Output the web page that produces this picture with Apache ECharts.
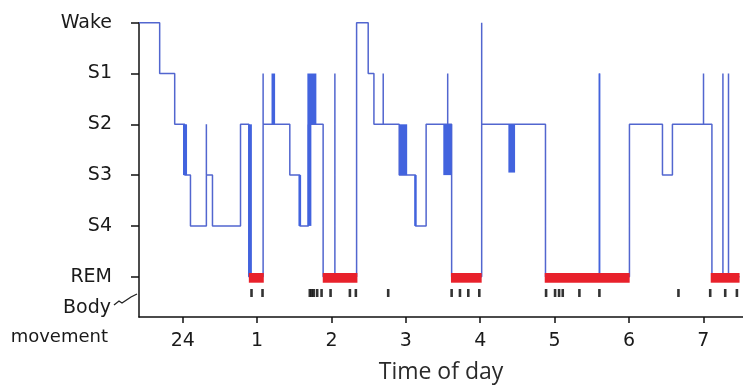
<!DOCTYPE html>
<html><head><meta charset="utf-8">
<script src="https://cdn.jsdelivr.net/npm/echarts@6/dist/echarts.min.js"></script>
<style>html,body{margin:0;padding:0;background:#fff}#c{width:743px;height:385px}</style>
</head><body><div id="c"></div>
<script>
// Stage axis (value 5 = Wake ... 0 = REM)
const stageLabels = ['REM', 'S4', 'S3', 'S2', 'S1', 'Wake'];
const stageValues = [0, 1, 2, 3, 4, 5];
// Time axis: hours after midnight
const hourTicks = [0, 1, 2, 3, 4, 5, 6, 7];
const hourLabels = ['24', '1', '2', '3', '4', '5', '6', '7'];

// Hypnogram: segment start time (h) and stage held until the next start
const segStart = [-0.588, -0.310, -0.108, 0.027, 0.104, 0.318, 0.318, 0.400, 0.777, 0.890,
  1.081, 1.081, 1.440, 1.575, 1.690, 1.888, 2.046, 2.046, 2.338, 2.494,
  2.571, 2.696, 2.696, 2.911, 3.130, 3.273, 3.563, 3.563, 3.616, 4.020,
  4.020, 4.878, 5.603, 5.603, 6.007, 6.451, 6.585, 7.003, 7.003, 7.116,
  7.264, 7.264, 7.339, 7.339];
const segStage = [5, 4, 3, 2, 1, 3, 2, 1, 3, 0,
  4, 3, 2, 1, 3, 0, 4, 0, 5, 4,
  3, 4, 3, 2, 1, 3, 4, 3, 0, 5,
  3, 0, 4, 0, 3, 2, 3, 4, 3, 0,
  4, 0, 4, 0];
const recordEnd = 7.488;

// Rapid stage alternations drawn as filled blocks: start, end, low stage, high stage
const blockStart = [0.004, 0.879, 1.194, 1.556, 1.676, 1.676, 2.911, 3.113, 3.504, 4.379, 5.595];
const blockEnd   = [0.058, 0.930, 1.242, 1.592, 1.730, 1.797, 3.018, 3.145, 3.616, 4.469, 5.615];
const blockLow   = [2, 0, 3, 1, 1, 3, 2, 1, 2, 2.05, 0];
const blockHigh  = [3, 3, 4, 2, 3, 4, 3, 2, 3, 3, 4];

// REM periods
const remStart = [0.889, 1.883, 3.607, 4.868, 7.100];
const remEnd   = [1.090, 2.349, 4.020, 6.010, 7.488];

// Body movements (times, h)
const bodyMovements = [0.925, 1.073, 1.709, 1.736, 1.763, 1.808, 1.867, 1.988, 2.248, 2.328,
  2.763, 3.616, 3.728, 3.840, 3.988, 4.886, 5.007, 5.061, 5.110, 5.334,
  5.603, 6.666, 7.093, 7.295, 7.452];
const bodyRow = -0.321;

const linePts = [];
for (let i = 0; i < segStart.length; i++) {
  const t1 = i + 1 < segStart.length ? segStart[i + 1] : recordEnd;
  linePts.push([segStart[i], segStage[i]]);
  linePts.push([t1, segStage[i]]);
}
const blocks = blockStart.map((s, i) => [s, blockEnd[i], blockLow[i], blockHigh[i]]);
const rems = remStart.map((s, i) => [s, remEnd[i]]);

const FONT = 'DejaVu Sans';
const chart = echarts.init(document.getElementById('c'), null, {renderer: 'canvas'});
chart.setOption({
  animation: false,
  backgroundColor: '#fff',
  grid: {left: 139, right: 0, top: 22.7, bottom: 68, containLabel: false, outerBoundsMode: 'none'},
  xAxis: {
    type: 'value', min: -0.588, max: 7.534,
    splitLine: {show: false},
    axisLine: {onZero: false, lineStyle: {color: '#111', width: 1.5}},
    axisTick: {customValues: hourTicks, length: 6, lineStyle: {color: '#111', width: 1.5}},
    axisLabel: {customValues: hourTicks, formatter: v => hourLabels[hourTicks.indexOf(Math.round(v))],
      fontFamily: FONT, fontSize: 19, color: '#1a1a1a', margin: 15},
    name: 'Time of day', nameLocation: 'middle', nameGap: 44,
    nameTextStyle: {fontFamily: 'Open Sans', fontSize: 23, color: '#2a2a2a'}
  },
  yAxis: {
    type: 'value', min: -0.793, max: 5,
    splitLine: {show: false},
    axisLine: {show: true, onZero: false, lineStyle: {color: '#111', width: 1.5}},
    axisTick: {customValues: stageValues, length: 8, lineStyle: {color: '#111', width: 1.5}},
    axisLabel: {customValues: stageValues, formatter: v => stageLabels[Math.round(v)],
      fontFamily: FONT, fontSize: 19, color: '#1a1a1a', margin: 27}
  },
  graphic: [
    {type: 'text', x: 111, y: 308, style: {text: 'Body', font: '19px "DejaVu Sans"', fill: '#1a1a1a', align: 'right', verticalAlign: 'middle'}},
    {type: 'text', x: 108, y: 337, style: {text: 'movement', font: '18px "DejaVu Sans"', fill: '#1a1a1a', align: 'right', verticalAlign: 'middle'}},
    {type: 'polyline', shape: {points: [[114, 305], [119, 301], [122, 303], [131, 297], [137, 294]]}, style: {stroke: '#222', lineWidth: 1.3, fill: null}}
  ],
  series: [
    {type: 'line', data: linePts, showSymbol: false, clip: false, z: 2,
      lineStyle: {color: '#5266cf', width: 1.5}},
    {type: 'custom', z: 3, clip: false, data: blocks,
      renderItem: (params, api) => {
        const p0 = api.coord([api.value(0), api.value(3)]);
        const p1 = api.coord([api.value(1), api.value(2)]);
        return {type: 'rect', shape: {x: p0[0], y: p0[1], width: Math.max(p1[0] - p0[0], 1.5), height: p1[1] - p0[1]},
          style: {fill: '#4263de'}};
      }},
    {type: 'custom', z: 4, clip: false, data: rems,
      renderItem: (params, api) => {
        const p0 = api.coord([api.value(0), 0.073]);
        const p1 = api.coord([api.value(1), -0.118]);
        return {type: 'rect', shape: {x: p0[0], y: p0[1], width: p1[0] - p0[0], height: p1[1] - p0[1]},
          style: {fill: '#e8212b'}};
      }},
    {type: 'scatter', z: 5, data: bodyMovements.map(t => [t, bodyRow]), symbol: 'rect', symbolSize: [2.6, 8],
      itemStyle: {color: '#000'}}
  ]
});
</script></body></html>
